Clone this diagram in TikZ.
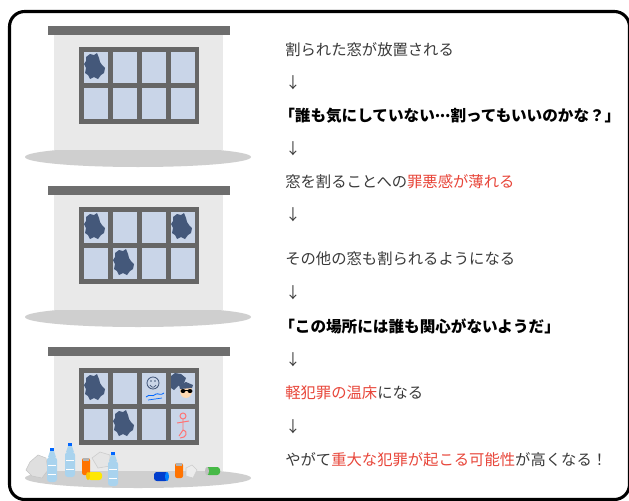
\documentclass[tikz,border=0pt]{standalone}
\usepackage{fontspec}
\newfontfamily\jp{Noto Sans CJK JP}
\newcommand{\middots}{\makebox[1em][c]{\raisebox{0.3em}{.\kern-0.02em.\kern-0.02em.}}}
\definecolor{roofgray}{HTML}{6E6E6E}
\definecolor{wallgray}{HTML}{E9E9E9}
\definecolor{shadowgray}{HTML}{CFCFCF}
\definecolor{framegray}{HTML}{666666}
\definecolor{paneblue}{HTML}{C9D5E8}
\definecolor{holeblue}{HTML}{44587A}
\definecolor{txtgray}{HTML}{3A3A3A}
\definecolor{hotred}{HTML}{E8463A}
\definecolor{bottleblue}{HTML}{A9D3EE}
\tikzset{
  x=0.025cm, y=-0.025cm,
  txt/.style={anchor=west, inner sep=0pt, text=txtgray,
    font=\jp\fontsize{10.9pt}{13pt}\selectfont},
  loud/.style={txt, text=black, font=\jp\bfseries\fontsize{11.1pt}{13pt}\selectfont},
  hole/.pic={
    \fill[holeblue] (2,5) -- (6,2) -- (10,3) -- (13,1) -- (15,6) -- (16,10) -- (18,13)
      -- (21,16) -- (20,21) -- (17,23) -- (14,27) -- (10,25) -- (6,27) -- (4,23)
      -- (1,21) -- (2,16) -- (0,12) -- (2,9) -- cycle;
  },
  bottle/.pic={
    \fill[bottleblue, rounded corners=2] (0,9) rectangle (10,34);
    \fill[bottleblue] (3,3) -- (7,3) -- (9,9) -- (1,9) -- cycle;
    \fill[blue!60!cyan] (3,0) rectangle (7,3);
    \draw[white, line width=0.6pt] (1,17) -- (9,17) (1,26) -- (9,26);
  }
}
\begin{document}
\begin{tikzpicture}
  \useasboundingbox (0,0) rectangle (629,500);
  \clip (0,0) rectangle (629,500);
  \fill[white] (0,0) rectangle (629,500);

  % three houses, one above the other
  \foreach \dy in {0,160,321}{
    \begin{scope}[shift={(0,\dy)}]
      \fill[shadowgray] (138,157) ellipse [x radius=113, y radius=10];
      \fill[wallgray] (54,35) rectangle (223,150);
      \fill[roofgray] (48,26) rectangle (230,35);
      \fill[framegray] (79,47) rectangle (199,124);
      \foreach \c in {0,...,3}
        \foreach \r in {0,1}
          \fill[paneblue] ({84+29*\c},{52+36*\r}) rectangle ++(24,31);
    \end{scope}
  }

  % broken panes
  \pic at (84,52) {hole};
  \pic at (84,212) {hole};
  \pic at (171,212) {hole};
  \pic at (113,248) {hole};
  \pic at (84,373) {hole};
  \pic at (113,409) {hole};

  % someone peeking in the last house
  \fill[holeblue] (171,376) -- (175,373) -- (181,374) -- (186,378) -- (184,383)
    -- (178,386) -- (174,390) -- (171,388) -- cycle;
  \fill[orange!30!white] (186,391) ellipse [x radius=6, y radius=7];
  \fill[holeblue] (179,385) -- (186,382) -- (193,385) -- (192,388) -- (180,389) -- cycle;
  \fill[black] (183,391) ellipse [x radius=2.5, y radius=2];
  \fill[black] (190,391) ellipse [x radius=2.5, y radius=2];
  \draw[black, line width=0.5pt] (183,390) -- (190,390);

  % graffiti
  \draw[holeblue, line width=0.6pt] (153,383) circle [radius=6];
  \fill[holeblue] (151,381) circle [radius=0.8] (155,381) circle [radius=0.8];
  \draw[holeblue, line width=0.5pt] (150,385) .. controls (152,388) and (154,388) .. (156,385);
  \draw[blue!60!cyan, line width=0.6pt] (146,397) .. controls (150,393) and (152,398) .. (156,394)
    .. controls (158,393) and (161,396) .. (164,393);
  \draw[blue!60!cyan, line width=0.5pt] (148,400) -- (162,398);
  \draw[red!55!white, line width=0.7pt] (183,416) circle [radius=3]
    (183,419) -- (183,430) (177,423) -- (189,421) (183,430) -- (179,436)
    (183,430) .. controls (189,432) and (186,438) .. (180,438);

  % rubbish in front of the last house
  \fill[gray!25, draw=gray!45] (30,462) -- (38,455) -- (46,458) -- (48,470) -- (42,478)
    -- (32,476) -- (26,470) -- cycle;
  \fill[gray!20, draw=gray!40] (92,458) -- (100,452) -- (110,455) -- (110,466) -- (98,468) -- cycle;
  \fill[gray!15, draw=gray!40] (186,468) -- (192,465) -- (197,470) -- (193,478) -- (186,476) -- cycle;
  \pic at (47,448) {bottle};
  \pic at (65,443) {bottle};
  \fill[orange!90!red, rounded corners=1.5] (82,458) rectangle (90,475);
  \fill[gray!60] (83,458) rectangle (89,461);
  \fill[yellow!90!orange, rounded corners=2] (88,472) rectangle (102,480);
  \fill[yellow!60!orange] (88,476) ellipse [x radius=2, y radius=4];
  \pic at (108,452) {bottle};
  \fill[blue!70!cyan!80!black, rounded corners=2] (154,472) rectangle (168,481);
  \fill[blue!50!cyan] (167,476.5) ellipse [x radius=2, y radius=4.5];
  \fill[orange!90!red, rounded corners=1.5] (175,463) rectangle (183,478);
  \fill[gray!60] (176,463) rectangle (182,466);
  \fill[green!45!gray, rounded corners=2] (206,467) rectangle (220,475);
  \fill[gray!50] (207,471) ellipse [x radius=2, y radius=4];

  % the chain of steps
  \node[txt] (s1) at (285,50) {割られた窓が放置される};
  \node[txt] (a1) at (285,83) {↓};
  \node[loud] (s2) at (279,116) {「誰も気にしていない\middots 割ってもいいのかな？」};
  \node[txt] (a2) at (285,149) {↓};
  \node[txt] (s3) at (285,182) {窓を割ることへの\textcolor{hotred}{罪悪感が薄れる}};
  \node[txt] (a3) at (285,215) {↓};
  \node[txt] (s4) at (285,259) {その他の窓も割られるようになる};
  \node[txt] (a4) at (285,293) {↓};
  \node[loud] (s5) at (279,326) {「この場所には誰も関心がないようだ」};
  \node[txt] (a5) at (285,360) {↓};
  \node[txt] (s6) at (285,393) {\textcolor{hotred}{軽犯罪の温床}になる};
  \node[txt] (a6) at (285,427) {↓};
  \node[txt] (s7) at (285,460) {やがて\textcolor{hotred}{重大な犯罪が起こる可能性}が高くなる！};

  % outer frame
  \draw[line width=2.2pt, rounded corners=0.38cm] (9.5,11.5) rectangle (629.5,499.5);
\end{tikzpicture}
\end{document}
